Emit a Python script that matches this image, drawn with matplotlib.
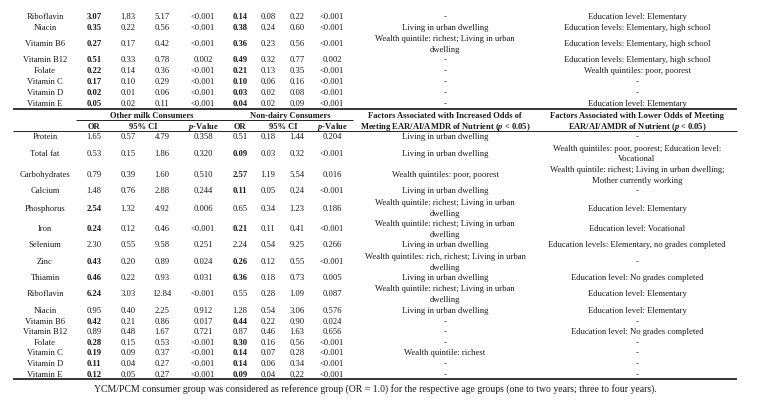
import matplotlib
matplotlib.use('Agg')
import matplotlib.pyplot as plt

FONT = 'Liberation Serif'
plt.rcParams['font.family'] = [FONT, 'DejaVu Serif']
plt.rcParams['mathtext.fontset'] = 'custom'
plt.rcParams['mathtext.it'] = 'Liberation Serif:italic:bold'
plt.rcParams['mathtext.rm'] = 'Liberation Serif:bold'
plt.rcParams['mathtext.bf'] = 'Liberation Serif:bold'

# ---------------- data ----------------
top_nutrients = ["Riboflavin", "Niacin", "Vitamin B6", "Vitamin B12", "Folate",
                 "Vitamin C", "Vitamin D", "Vitamin E"]
top_om_or = [3.07, 0.35, 0.27, 0.51, 0.22, 0.17, 0.02, 0.05]
top_om_lo = [1.83, 0.22, 0.17, 0.33, 0.14, 0.10, 0.01, 0.02]
top_om_hi = [5.17, 0.56, 0.42, 0.78, 0.36, 0.29, 0.06, 0.11]
top_om_p = ["<0.001", "<0.001", "<0.001", "0.002", "<0.001", "<0.001", "<0.001", "<0.001"]
top_nd_or = [0.14, 0.38, 0.36, 0.49, 0.21, 0.10, 0.03, 0.04]
top_nd_lo = [0.08, 0.24, 0.23, 0.32, 0.13, 0.06, 0.02, 0.02]
top_nd_hi = [0.22, 0.60, 0.56, 0.77, 0.35, 0.16, 0.08, 0.09]
top_nd_p = ["<0.001", "<0.001", "<0.001", "0.002", "<0.001", "<0.001", "<0.001", "<0.001"]
top_increased = ["-", "Living in urban dwelling",
                 "Wealth quintile: richest; Living in urban\ndwelling",
                 "-", "-", "-", "-", "-"]
top_lower = ["Education level: Elementary", "Education levels: Elementary, high school",
             "Education levels: Elementary, high school", "Education levels: Elementary, high school",
             "Wealth quintiles: poor, poorest", "-", "-", "Education level: Elementary"]

bot_nutrients = ["Protein", "Total fat", "Carbohydrates", "Calcium", "Phosphorus", "Iron",
                 "Selenium", "Zinc", "Thiamin", "Riboflavin", "Niacin", "Vitamin B6",
                 "Vitamin B12", "Folate", "Vitamin C", "Vitamin D", "Vitamin E"]
bot_om_or = [1.65, 0.53, 0.79, 1.48, 2.54, 0.24, 2.30, 0.43, 0.46, 6.24, 0.95, 0.42, 0.89, 0.28, 0.19, 0.11, 0.12]
bot_om_lo = [0.57, 0.15, 0.39, 0.76, 1.32, 0.12, 0.55, 0.20, 0.22, 3.03, 0.40, 0.21, 0.48, 0.15, 0.09, 0.04, 0.05]
bot_om_hi = [4.79, 1.86, 1.60, 2.88, 4.92, 0.46, 9.58, 0.89, 0.93, 12.84, 2.25, 0.86, 1.67, 0.53, 0.37, 0.27, 0.27]
bot_om_p = ["0.358", "0.320", "0.510", "0.244", "0.006", "<0.001", "0.251", "0.024", "0.031",
            "<0.001", "0.912", "0.017", "0.721", "<0.001", "<0.001", "<0.001", "<0.001"]
bot_nd_or = [0.51, 0.09, 2.57, 0.11, 0.65, 0.21, 2.24, 0.26, 0.36, 0.55, 1.28, 0.44, 0.87, 0.30, 0.14, 0.14, 0.09]
bot_nd_lo = [0.18, 0.03, 1.19, 0.05, 0.34, 0.11, 0.54, 0.12, 0.18, 0.28, 0.54, 0.22, 0.46, 0.16, 0.07, 0.06, 0.04]
bot_nd_hi = [1.44, 0.32, 5.54, 0.24, 1.23, 0.41, 9.25, 0.55, 0.73, 1.09, 3.06, 0.90, 1.63, 0.56, 0.28, 0.34, 0.22]
bot_nd_p = ["0.204", "<0.001", "0.016", "<0.001", "0.186", "<0.001", "0.266", "<0.001", "0.005",
            "0.087", "0.576", "0.024", "0.656", "<0.001", "<0.001", "<0.001", "<0.001"]
bot_increased = ["Living in urban dwelling", "Living in urban dwelling", "Wealth quintiles: poor, poorest",
                 "Living in urban dwelling", "Wealth quintile: richest; Living in urban\ndwelling",
                 "Wealth quintile: richest; Living in urban\ndwelling", "Living in urban dwelling",
                 "Wealth quintiles: rich, richest; Living in urban\ndwelling", "Living in urban dwelling",
                 "Wealth quintile: richest; Living in urban\ndwelling", "Living in urban dwelling",
                 "-", "-", "-", "Wealth quintile: richest", "-", "-"]
bot_lower = ["-", "Wealth quintiles: poor, poorest; Education level:\nVocational",
             "Wealth quintile: richest; Living in urban dwelling;\nMother currently working",
             "-", "Education level: Elementary", "Education level: Vocational",
             "Education levels: Elementary, no grades completed", "-",
             "Education level: No grades completed", "Education level: Elementary",
             "Education level: Elementary", "-", "Education level: No grades completed",
             "-", "-", "-", "-"]

group_headers = ["Other milk Consumers", "Non-dairy Consumers"]
sub_headers = ["OR", "95% CI", "$p$-Value"]
inc_header = "Factors Associated with Increased Odds of\nMeeting EAR/AI/AMDR of Nutrient ($p$ < 0.05)"
low_header = "Factors Associated with Lower Odds of Meeting\nEAR/AI/AMDR of Nutrient ($p$ < 0.05)"
footnote = ("YCM/PCM consumer group was considered as reference group (OR = 1.0) for the "
            "respective age groups (one to two years; three to four years).")

# ---------------- layout ----------------
W, H = 761, 410
FS = 6.25
FS_HEAD = 6.1
FS_NOTE = 7.05
LH = 10.7
COLOR = '#1a1a1a'
x_name, x_or, x_lo, x_hi, x_p = 45, 94, 128, 162, 203
x_or2, x_lo2, x_hi2, x_p2 = 240, 268, 297, 332
x_inc, x_low = 445, 637
top_y = [17.3, 28.3, 44.3, 60.3, 71.3, 82.3, 93.3, 104.3]
bot_y = [137.3, 154, 175.3, 191.5, 208.7, 229.5, 245.3, 262.3, 278.3, 294.3,
         310.7, 321.7, 332.3, 342.7, 353.3, 364.3, 375.3]

fig = plt.figure(figsize=(W / 100, H / 100), dpi=100)
ax = fig.add_axes([0, 0, 1, 1])
ax.set_xlim(0, W)
ax.set_ylim(H, 0)
ax.axis('off')


def put(x, y, s, bold=False, size=FS):
    lines = s.split('\n')
    n = len(lines)
    for i, line in enumerate(lines):
        yy = y + (i - (n - 1) / 2) * LH
        ax.text(x, yy, line, ha='center', va='center', fontsize=size,
                fontweight='bold' if bold else 'normal', color=COLOR, family=FONT)


def significant(p):
    return p.startswith('<') or float(p) < 0.05


def fmt(v):
    return f"{v:.2f}"


def draw_block(ys, names, oor, olo, ohi, op, nor, nlo, nhi, np_, inc, low):
    for i, y in enumerate(ys):
        put(x_name, y, names[i])
        put(x_or, y, fmt(oor[i]), bold=significant(op[i]))
        put(x_lo, y, fmt(olo[i]))
        put(x_hi, y, fmt(ohi[i]))
        put(x_p, y, op[i])
        put(x_or2, y, fmt(nor[i]), bold=significant(np_[i]))
        put(x_lo2, y, fmt(nlo[i]))
        put(x_hi2, y, fmt(nhi[i]))
        put(x_p2, y, np_[i])
        put(x_inc, y, inc[i])
        put(x_low, y, low[i])


draw_block(top_y, top_nutrients, top_om_or, top_om_lo, top_om_hi, top_om_p,
           top_nd_or, top_nd_lo, top_nd_hi, top_nd_p, top_increased, top_lower)
draw_block(bot_y, bot_nutrients, bot_om_or, bot_om_lo, bot_om_hi, bot_om_p,
           bot_nd_or, bot_nd_lo, bot_nd_hi, bot_nd_p, bot_increased, bot_lower)

# headers
h1, h2 = 115.7, 126.7
put(152, h1, group_headers[0], bold=True, size=FS_HEAD)
put(290, h1, group_headers[1], bold=True, size=FS_HEAD)
for xs in [(x_or, 143, x_p), (x_or2, 283, x_p2)]:
    for xx, lab in zip(xs, sub_headers):
        put(xx, h2, lab, bold=True, size=FS_HEAD)
put(x_inc, (h1 + h2) / 2, inc_header, bold=True, size=FS_HEAD)
put(x_low, (h1 + h2) / 2, low_header, bold=True, size=FS_HEAD)

# rules
ax.plot([13, 737], [109.5, 109.5], color='black', lw=1.1, solid_capstyle='butt')
ax.plot([76, 353], [120.7, 120.7], color='black', lw=0.6, solid_capstyle='butt')
ax.plot([13, 737], [131.7, 131.7], color='black', lw=0.6, solid_capstyle='butt')
ax.plot([13, 737], [380, 380], color='black', lw=1.1, solid_capstyle='butt')

put(375, 388.7, footnote, size=FS_NOTE)

fig.savefig('out.png', dpi=100, facecolor='white')
